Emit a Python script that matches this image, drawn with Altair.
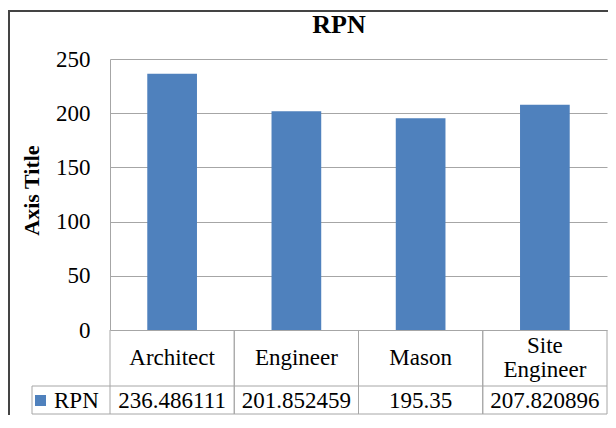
import altair as alt
import pandas as pd

# ---- data ----
categories = ["Architect", "Engineer", "Mason", "Site Engineer"]
rpn_values = [236.486111, 201.852459, 195.35, 207.820896]
series_name = "RPN"
y_ticks = [0, 50, 100, 150, 200, 250]
chart_title = "RPN"
y_title = "Axis Title"

df = pd.DataFrame({
    "cat": categories,
    "rpn": rpn_values,
    "series": [series_name] * len(categories),
    "label": [c.replace(" ", "\n") for c in categories],
    "vtext": [str(v) for v in rpn_values],
})
one = pd.DataFrame({"k": [0]})

FONT = "Liberation Serif"
BLUE = "#4f81bd"
GRID = "#a6a6a6"
FRAME = "#444444"
FS = 23
LH = 24
W, H = 497, 271
ROW1 = 327   # bottom of category row (plot coords)
ROW2 = 355   # bottom of value row
LEFT = -78   # left edge of legend cell

xscale = alt.Scale(domain=categories, paddingInner=0, paddingOuter=0)
xenc = alt.X("cat:N", scale=xscale, axis=None, sort=categories)

bars = alt.Chart(df).mark_bar(width=alt.RelativeBandSize(0.4)).encode(
    x=xenc,
    y=alt.Y(
        "rpn:Q",
        scale=alt.Scale(domain=[0, 250], nice=False, zero=True),
        axis=alt.Axis(
            values=y_ticks, title=y_title, grid=True, gridColor=GRID,
            domain=True, domainColor=GRID, ticks=False,
            labelFont=FONT, labelFontSize=FS, labelColor="black", labelPadding=20,
            titleFont=FONT, titleFontSize=22, titleFontWeight="bold", titleColor="black",
            titleX=-79, titleY=131, titleBaseline="middle", titleAlign="center", titleAngle=270,
        ),
    ),
    color=alt.Color(
        "series:N",
        scale=alt.Scale(range=[BLUE]),
        legend=alt.Legend(
            title=None, orient="none", legendX=-81, legendY=330,
            symbolType="square", symbolSize=121, symbolStrokeWidth=0,
            labelFont=FONT, labelFontSize=FS, labelColor="black", labelOffset=2,
            padding=0,
        ),
    ),
)

# data-table below the plot
vlines_left = alt.Chart(df).mark_rule(color=GRID, strokeWidth=1).encode(
    x=alt.X("cat:N", scale=xscale, sort=categories, bandPosition=0),
    y=alt.value(H), y2=alt.value(ROW2),
)
vlines_right = alt.Chart(df).mark_rule(color=GRID, strokeWidth=1).encode(
    x=alt.X("cat:N", scale=xscale, sort=categories, bandPosition=1),
    y=alt.value(H), y2=alt.value(ROW2),
)
hline_mid = alt.Chart(one).mark_rule(color=GRID).encode(
    x=alt.value(LEFT), x2=alt.value(W), y=alt.value(ROW1))
hline_bot = alt.Chart(one).mark_rule(color=GRID).encode(
    x=alt.value(LEFT), x2=alt.value(W), y=alt.value(ROW2))
vline_legend = alt.Chart(one).mark_rule(color=GRID).encode(
    x=alt.value(LEFT), y=alt.value(ROW1), y2=alt.value(ROW2))

# category labels, vertically centred in their cell whatever their number of lines
cat_text = alt.Chart(df).transform_calculate(
    ty=f"{(H + ROW1) / 2} - (length(split(datum.label, '\\n')) - 1) * {LH / 2}"
).mark_text(
    font=FONT, fontSize=FS, color="black", baseline="middle", lineBreak="\n", lineHeight=LH
).encode(
    x=alt.X("cat:N", scale=xscale, sort=categories),
    y=alt.Y("ty:Q", scale=None),
    text="label:N",
)
val_text = alt.Chart(df).mark_text(
    font=FONT, fontSize=FS, color="black", baseline="middle"
).encode(
    x=alt.X("cat:N", scale=xscale, sort=categories),
    y=alt.value((ROW1 + ROW2) / 2 + 0.5),
    text="vtext:N",
)

title_text = alt.Chart(one).mark_text(
    font=FONT, fontSize=26, fontWeight="bold", color="black", baseline="alphabetic", align="center"
).encode(x=alt.value(229), y=alt.value(-26), text=alt.value(chart_title))

frame = alt.Chart(one).mark_rect(fillOpacity=0, stroke=FRAME, strokeWidth=2).encode(
    x=alt.value(-101), x2=alt.value(530), y=alt.value(-48), y2=alt.value(430))

chart = alt.layer(
    frame, bars, vlines_left, vlines_right, hline_mid, hline_bot, vline_legend,
    cat_text, val_text, title_text,
).properties(
    width=W, height=H,
    autosize=alt.AutoSizeParams(type="none"),
    padding={"left": 102, "top": 51, "right": 1, "bottom": 85},
    background="white",
).configure(font=FONT).configure_text(font=FONT).configure_view(strokeWidth=0)

chart.save("out.html", embed_options={"renderer": "svg", "actions": False})
